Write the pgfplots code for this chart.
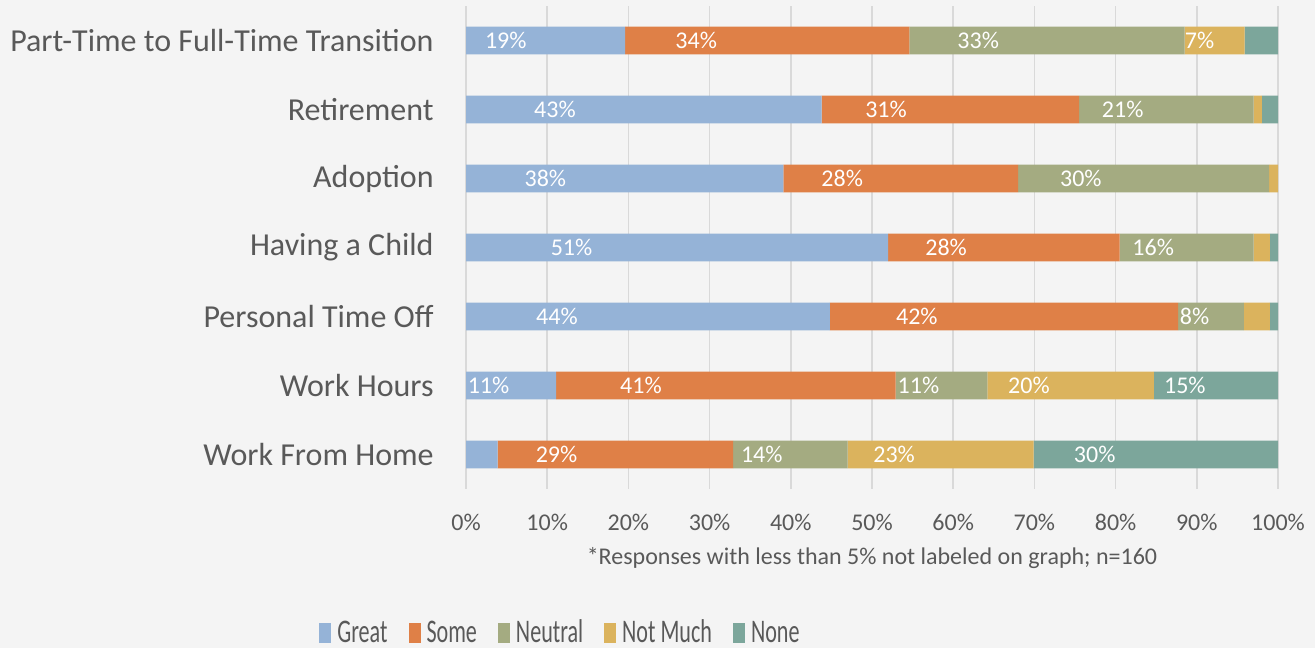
\documentclass[border=0pt]{standalone}
\usepackage{fontspec}
\setmainfont{Carlito}
\usepackage{pgfplots}
\usepackage{pgfplotstable}
\usepackage{graphicx}
\pgfplotsset{compat=1.18}
\definecolor{bg}{HTML}{F4F4F4}
\definecolor{txt}{HTML}{595959}
\definecolor{gridc}{HTML}{D9D9D9}
\definecolor{cgreat}{HTML}{95B3D7}
\definecolor{csome}{HTML}{DF8047}
\definecolor{cneutral}{HTML}{A4AB81}
\definecolor{cnotmuch}{HTML}{DBB35D}
\definecolor{cnone}{HTML}{7CA69B}

\pgfplotstableread{
y x lab
6 19.6 19\%
5 43.8 43\%
4 39.1 38\%
3 52.0 51\%
2 44.8 44\%
1 11.1 11\%
0 3.9 {}
}\great
\pgfplotstableread{
y x lab
6 35.0 34\%
5 31.7 31\%
4 28.9 28\%
3 28.5 28\%
2 42.9 42\%
1 41.8 41\%
0 29.0 29\%
}\some
\pgfplotstableread{
y x lab
6 33.9 33\%
5 21.5 21\%
4 30.9 30\%
3 16.5 16\%
2 8.1 8\%
1 11.3 11\%
0 14.1 14\%
}\neutral
\pgfplotstableread{
y x lab
6 7.4 7\%
5 1.0 {}
4 1.1 {}
3 2.0 {}
2 3.2 {}
1 20.5 20\%
0 22.9 23\%
}\notmuch
\pgfplotstableread{
y x lab
6 4.1 {}
5 2.0 {}
4 0.0 {}
3 1.0 {}
2 1.0 {}
1 15.3 15\%
0 30.1 30\%
}\none

\begin{document}
\begin{tikzpicture}
\fill[bg] (0,0) rectangle (657.5bp,324bp);
\begin{axis}[
  at={(233bp,79.5bp)}, anchor=south west,
  scale only axis, width=406bp, height=241.5bp,
  xbar stacked, bar width=0.4,
  xmin=0, xmax=100, ymin=-0.5, ymax=6.5,
  axis line style={draw=none}, tick style={draw=none},
  xmajorgrids, grid style={color=gridc, line width=0.75bp},
  xtick={0,10,...,100},
  xticklabels={0\%,10\%,20\%,30\%,40\%,50\%,60\%,70\%,80\%,90\%,100\%},
  xticklabel style={anchor=center, inner sep=0pt, yshift=-16.5bp, font=\fontsize{12bp}{14bp}\selectfont, text=txt},
  ytick={0,...,6},
  yticklabels={Work From Home,Work Hours,Personal Time Off,Having a Child,Adoption,Retirement,Part-Time to Full-Time Transition},
  yticklabel style={anchor=east, inner sep=0pt, xshift=-16bp, font=\fontsize{16bp}{19bp}\selectfont, text=txt},
  xlabel={*Responses with less than 5\% not labeled on graph; n=160},
  xlabel style={at={(axis description cs:0.5,-0.1429)}, anchor=center, inner sep=0pt, font=\fontsize{12bp}{14bp}\selectfont, text=txt},
  point meta=explicit symbolic,
  visualization depends on={\thisrow{x} \as \rawx},
  nodes near coords,
  every node near coord/.append style={anchor=center, inner sep=0pt, xshift={-\rawx*1.0188pt}, font=\fontsize{12bp}{14bp}\selectfont, text=white},
  legend columns=-1,
  legend style={at={(0.1151,-0.298)}, anchor=center, draw=none, fill=none,
    nodes={inner sep=0pt}, font=\fontsize{16.5bp}{19bp}\selectfont, text=txt,
    /tikz/every odd column/.append style={column sep=3bp},
    /tikz/every even column/.append style={column sep=10.5bp}},
  leg/.style={legend image code/.code={\fill[##1] (0bp,-5bp) rectangle (6bp,5bp);}},
]
\addplot[fill=cgreat, draw=none, leg] table[x=x,y=y,meta=lab]{\great};
\addplot[fill=csome, draw=none, leg] table[x=x,y=y,meta=lab]{\some};
\addplot[fill=cneutral, draw=none, leg] table[x=x,y=y,meta=lab]{\neutral};
\addplot[fill=cnotmuch, draw=none, leg] table[x=x,y=y,meta=lab]{\notmuch};
\addplot[fill=cnone, draw=none, leg] table[x=x,y=y,meta=lab]{\none};
\legend{\scalebox{0.67}[1]{Great},\scalebox{0.67}[1]{Some},\scalebox{0.67}[1]{Neutral},\scalebox{0.67}[1]{Not Much},\scalebox{0.67}[1]{None}}
\end{axis}
\end{tikzpicture}
\end{document}
